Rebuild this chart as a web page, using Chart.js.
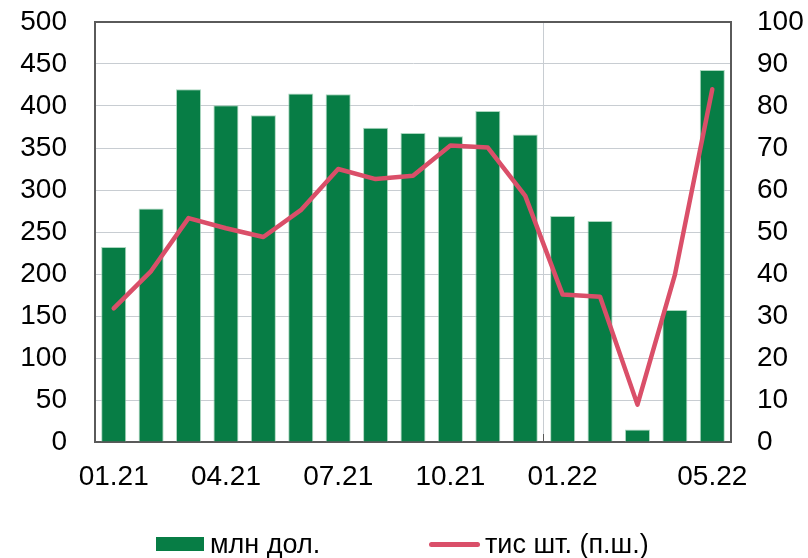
<!DOCTYPE html>
<html>
<head>
<meta charset="utf-8">
<script src="https://cdn.jsdelivr.net/npm/chart.js@4.4.1/dist/chart.umd.min.js"></script>
<style>
  html, body { margin: 0; padding: 0; background: #fff; }
  #wrap { position: relative; width: 808px; height: 558px; }
  #legend { position: absolute; left: 0; top: 530px; width: 808px; height: 28px;
    font-family: "Liberation Sans", Arial, sans-serif; font-size: 27px; color: #000; }
  .item { position: absolute; top: 0; height: 28px; display: flex; align-items: center; white-space: nowrap; }
  .box { width: 48px; height: 14px; margin-right: 6px; }
  .ln { width: 51px; height: 5px; border-radius: 3px; margin-right: 5px; }
</style>
</head>
<body>
<div id="wrap">
  <canvas id="myChart" width="808" height="558"></canvas>
  <div id="legend"></div>
</div>
<script>
const months = ['01.21', '02.21', '03.21', '04.21', '05.21', '06.21', '07.21', '08.21', '09.21',
  '10.21', '11.21', '12.21', '01.22', '02.22', '03.22', '04.22', '05.22'];
const shownTicks = ['01.21', '04.21', '07.21', '10.21', '01.22', '05.22'];
const usdMln = [232, 278, 420, 401, 389, 415, 414, 374, 368, 364, 394, 366, 269, 263, 15, 157, 443];
const thsUnits = [31.8, 40.7, 53.3, 50.9, 48.8, 55.2, 65.0, 62.6, 63.4, 70.6, 70.1, 58.6, 35.1, 34.6, 8.9, 39.8, 84.0];
const leftTicks = [0, 50, 100, 150, 200, 250, 300, 350, 400, 450, 500];
const rightTicks = [0, 10, 20, 30, 40, 50, 60, 70, 80, 90, 100];

const green = '#077d45';
const red = '#da4f69';
const frame = '#5a5a5a';
const gridGray = '#c8cdd2';
const none = 'rgba(0,0,0,0)';
const font = { family: '"Liberation Sans", Arial, sans-serif', size: 28 };

const ctx = document.getElementById('myChart');
const chart = new Chart(ctx, {
  data: {
    labels: months,
    datasets: [
      {
        type: 'line',
        label: 'тис шт. (п.ш.)',
        data: thsUnits,
        yAxisID: 'y1',
        borderColor: red,
        backgroundColor: red,
        borderWidth: 4.5,
        borderCapStyle: 'round',
        borderJoinStyle: 'round',
        pointRadius: 0,
        tension: 0,
        order: 0
      },
      {
        type: 'bar',
        label: 'млн дол.',
        data: usdMln,
        yAxisID: 'y',
        backgroundColor: green,
        borderColor: 'rgba(150,205,175,0.8)',
        borderWidth: 1,
        categoryPercentage: 1,
        barPercentage: 0.67,
        order: 1
      }
    ]
  },
  options: {
    responsive: false,
    devicePixelRatio: 1,
    animation: false,
    layout: { padding: { top: 22, left: 0, right: 0, bottom: 0 } },
    plugins: { legend: { display: false }, tooltip: { enabled: false } },
    scales: {
      x: {
        offset: true,
        grid: {
          offset: true,
          color: c => c.index === 12 ? gridGray : none,
          tickColor: c => c.index === 12 ? frame : none,
          tickLength: -8,
          lineWidth: 1
        },
        border: { color: frame, width: 2 },
        ticks: {
          autoSkip: false, maxRotation: 0, minRotation: 0,
          padding: 26, color: '#000', font: font,
          callback: function (v, i) {
            const l = months[i];
            return shownTicks.includes(l) ? l : '';
          }
        },
        afterFit: s => { s.height = 116; }
      },
      y: {
        position: 'left',
        min: 0, max: 500,
        afterBuildTicks: s => { s.ticks = leftTicks.map(v => ({ value: v })); },
        grid: {
          tickLength: 28,
          tickColor: none,
          color: c => c.tick && c.tick.value === 500 ? frame : gridGray,
          lineWidth: c => c.tick && c.tick.value === 500 ? 2 : 1
        },
        border: { color: frame, width: 2 },
        ticks: { padding: 0, color: '#000', font: font },
        afterFit: s => { s.width = 95; }
      },
      y1: {
        position: 'right',
        min: 0, max: 100,
        afterBuildTicks: s => { s.ticks = rightTicks.map(v => ({ value: v })); },
        grid: { drawOnChartArea: false, tickLength: 26, tickColor: none },
        border: { color: frame, width: 2 },
        ticks: { padding: 0, color: '#000', font: font },
        afterFit: s => { s.width = 77; }
      }
    }
  }
});

// legend from the datasets
const legend = document.getElementById('legend');
const legendX = { 'млн дол.': 156, 'тис шт. (п.ш.)': 429 };
[chart.data.datasets[1], chart.data.datasets[0]].forEach(ds => {
  const item = document.createElement('div');
  item.className = 'item';
  item.style.left = legendX[ds.label] + 'px';
  const mark = document.createElement('span');
  mark.className = ds.type === 'bar' ? 'box' : 'ln';
  mark.style.background = ds.type === 'bar' ? ds.backgroundColor : ds.borderColor;
  const txt = document.createElement('span');
  txt.textContent = ds.label;
  item.appendChild(mark);
  item.appendChild(txt);
  legend.appendChild(item);
});
</script>
</body>
</html>
